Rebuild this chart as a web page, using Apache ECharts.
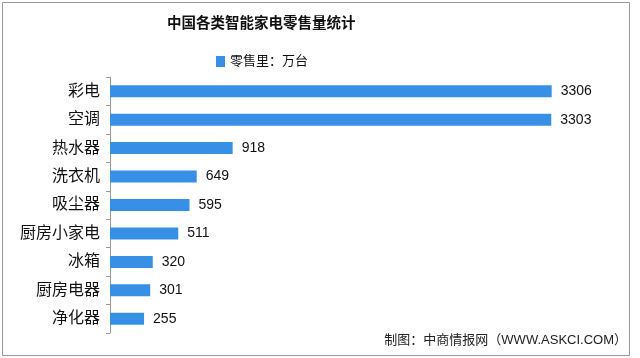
<!DOCTYPE html>
<html>
<head>
<meta charset="utf-8">
<script src="https://cdn.jsdelivr.net/npm/echarts@6/dist/echarts.min.js"></script>
<style>html,body{margin:0;padding:0;background:#fff}#c{width:640px;height:358px}</style>
</head>
<body>
<div id="c"></div>
<script>
const categories = ['彩电','空调','热水器','洗衣机','吸尘器','厨房小家电','冰箱','厨房电器','净化器'];
const values = [3306,3303,918,649,595,511,320,301,255];
const titleText = '中国各类智能家电零售量统计';
const seriesName = '零售里：万台';
const sourceText = '制图：中商情报网（WWW.ASKCI.COM）';

const FONT = '"Liberation Sans", "Noto Sans CJK SC", sans-serif';
const chart = echarts.init(document.getElementById('c'), null, {renderer:'canvas'});
chart.setOption({
  backgroundColor:'#fff',
  animation:false,
  title:{
    text:titleText, left:162, top:12,
    textStyle:{fontSize:14.5, fontWeight:'bold', color:'#111', fontFamily:FONT}
  },
  legend:{
    data:[seriesName], left:211, top:50, itemWidth:9, itemHeight:11, itemGap:3,
    icon:'rect',
    textStyle:{fontSize:13, color:'#111', fontFamily:FONT}
  },
  grid:{left:110, top:77, height:256, right:62.4, containLabel:false},
  xAxis:{type:'value', min:0, max:3500, show:false},
  yAxis:{
    type:'category', data:categories, inverse:true,
    axisLine:{show:true, lineStyle:{color:'#999', width:1}},
    axisTick:{show:true, length:4, lineStyle:{color:'#999'}},
    axisLabel:{fontSize:16, color:'#111', margin:10, fontFamily:FONT}
  },
  series:[{
    name:seriesName, type:'bar', data:values, barWidth:12,
    itemStyle:{color:'#388FE6'},
    label:{show:true, position:'right', distance:9, fontSize:14, color:'#111', fontFamily:FONT}
  }],
  graphic:[
    {type:'rect', shape:{x:2.5, y:2.5, width:627, height:353}, style:{fill:'none', stroke:'#999', lineWidth:1}, silent:true},
    {type:'text', right:13, top:334, style:{text:sourceText, fontSize:13, fill:'#222', fontFamily:FONT}}
  ]
});
</script>
</body>
</html>
